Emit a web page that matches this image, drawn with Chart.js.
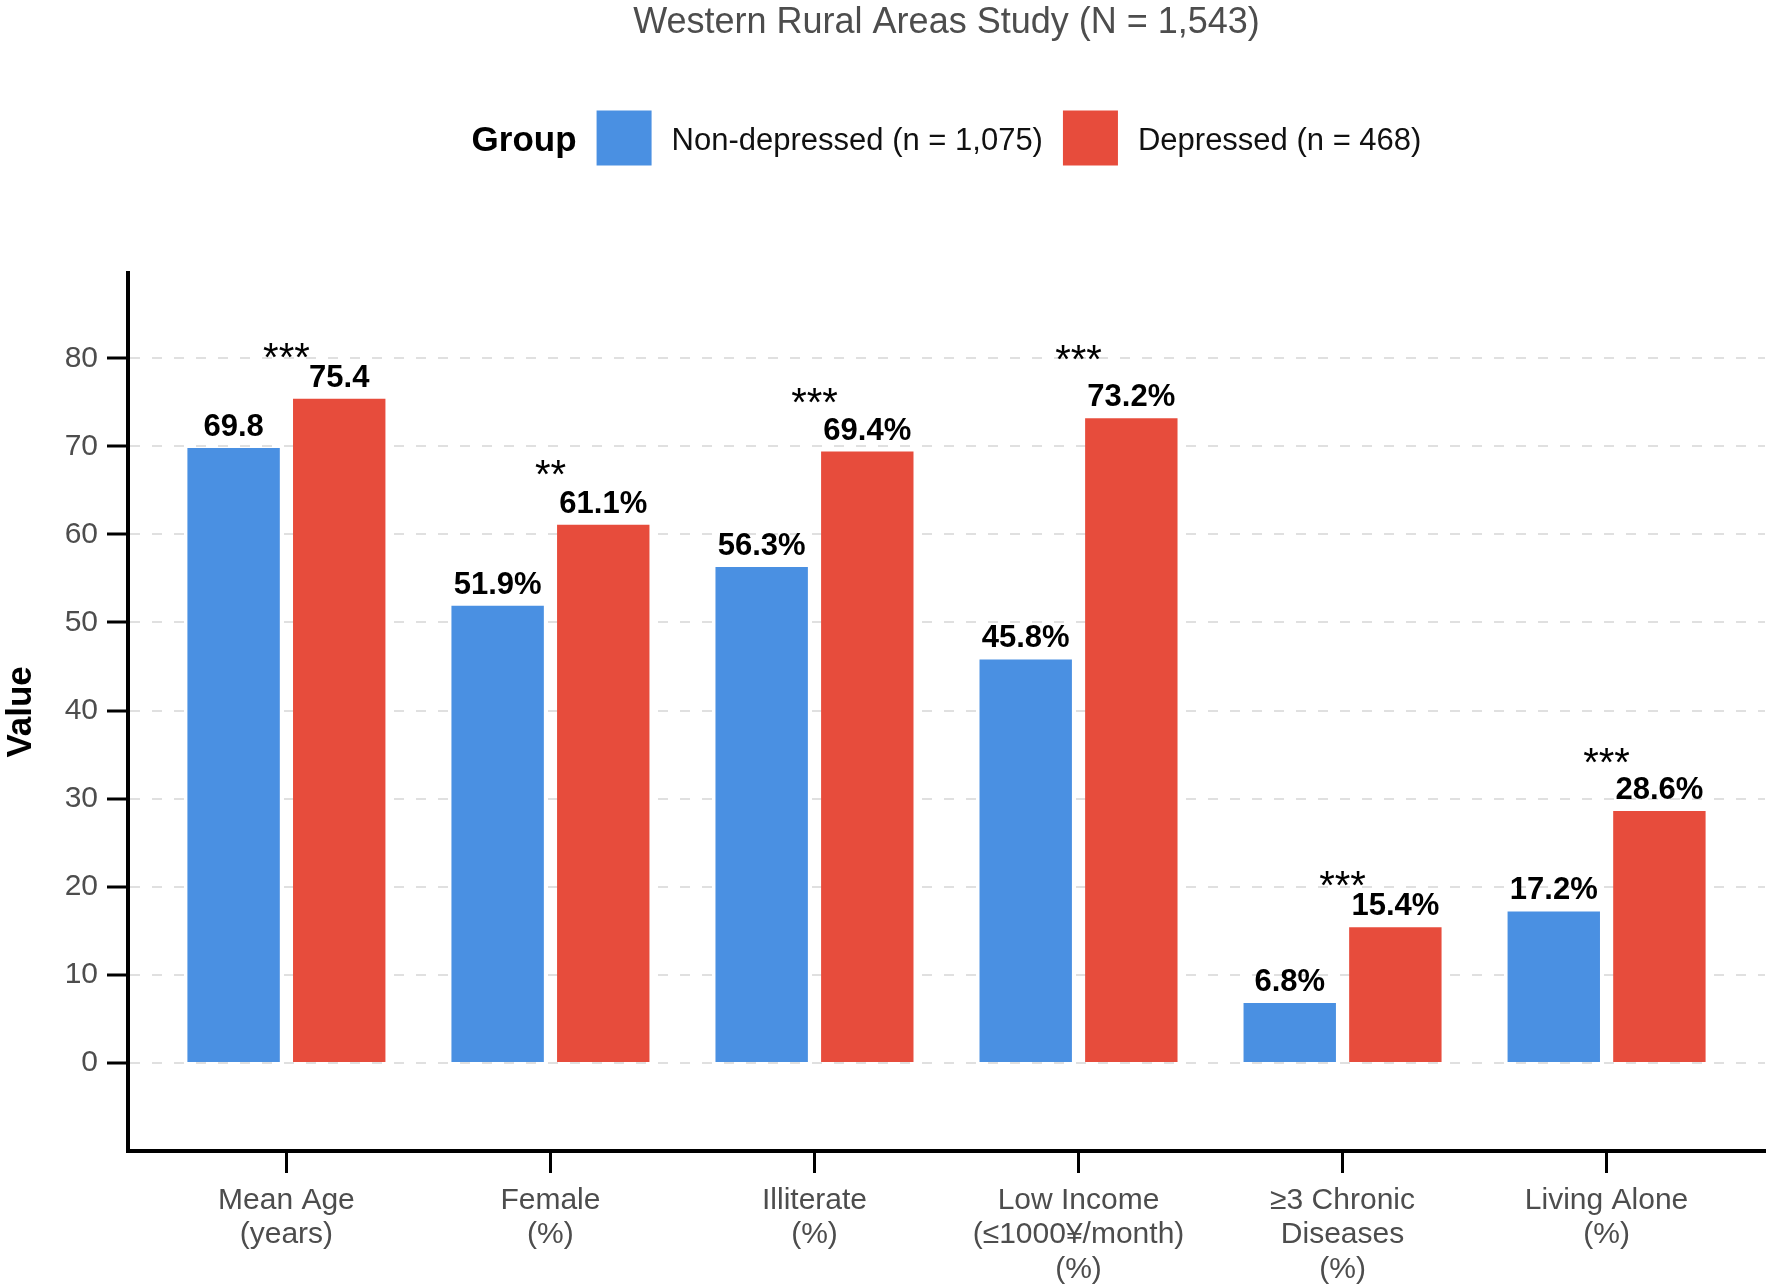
<!DOCTYPE html>
<html>
<head>
<meta charset="utf-8">
<script src="https://cdn.jsdelivr.net/npm/chart.js@4.4.1/dist/chart.umd.min.js"></script>
<style>
  html, body { margin: 0; padding: 0; background: #fff; }
  #wrap { width: 1772px; height: 1288px; }
</style>
</head>
<body>
<div id="wrap"><canvas id="chart" width="1772" height="1288" style="width:1772px;height:1288px"></canvas></div>
<script>
const FONT = "'Liberation Sans', Arial, Helvetica, sans-serif";

/* ---- data ---- */
const categories = [
  ['Mean Age', '(years)'],
  ['Female', '(%)'],
  ['Illiterate', '(%)'],
  ['Low Income', '(≤1000¥/month)', '(%)'],
  ['≥3 Chronic', 'Diseases', '(%)'],
  ['Living Alone', '(%)']
];
const nonDepressed = [69.8, 51.9, 56.3, 45.8, 6.8, 17.2];
const depressed    = [75.4, 61.1, 69.4, 73.2, 15.4, 28.6];
const valueSuffix  = ['', '%', '%', '%', '%', '%'];
const significance = ['***', '**', '***', '***', '***', '***'];
const sigHeight    = [78.6, 65.3, 73.4, 78.3, 18.6, 32.6];   // y value where the stars sit
const yTicks       = [0, 10, 20, 30, 40, 50, 60, 70, 80];
const groupNames   = ['Non-depressed (n = 1,075)', 'Depressed (n = 468)'];
const COLORS       = ['#4A90E2', '#E74C3C'];

const toPoints = arr => arr.map((v, i) => ({ x: i, y: v }));

/* ---- legend drawn to the right of a bold "Group" title ---- */
const groupLegend = {
  id: 'groupLegend',
  afterDraw(chart) {
    const { ctx, chartArea } = chart;
    const cy = 138, box = 55, gap = 20, textY = cy + 3;
    const titleFont = `bold 35px ${FONT}`;
    const itemFont  = `31px ${FONT}`;
    ctx.save();
    ctx.textBaseline = 'middle';
    ctx.textAlign = 'left';
    ctx.font = titleFont;
    const titleW = ctx.measureText('Group').width;
    ctx.font = itemFont;
    const items = chart.data.datasets.map(ds => ({
      text: ds.label, color: ds.backgroundColor, w: ctx.measureText(ds.label).width
    }));
    let total = titleW;
    items.forEach(it => { total += gap + box + gap + it.w; });
    let x = (chartArea.left + chartArea.right) / 2 - total / 2;

    ctx.font = titleFont;
    ctx.fillStyle = '#000';
    ctx.fillText('Group', x, textY);
    x += titleW;
    ctx.font = itemFont;
    items.forEach(it => {
      x += gap;
      ctx.fillStyle = it.color;
      ctx.fillRect(x, cy - box / 2, box, box);
      x += box + gap;
      ctx.fillStyle = '#111';
      ctx.fillText(it.text, x, textY);
      x += it.w;
    });
    ctx.restore();
  }
};

/* ---- value labels on bars + significance stars ---- */
const barLabels = {
  id: 'barLabels',
  afterDatasetsDraw(chart) {
    const { ctx } = chart;
    const xs = chart.scales.x, ys = chart.scales.y;
    ctx.save();
    ctx.textAlign = 'center';
    ctx.textBaseline = 'alphabetic';
    ctx.fillStyle = '#000';
    ctx.font = `bold 31px ${FONT}`;
    chart.data.datasets.forEach((ds, di) => {
      chart.getDatasetMeta(di).data.forEach((bar, i) => {
        ctx.fillText(ds.data[i].y.toFixed(1) + valueSuffix[i], bar.x, bar.y - 12);
      });
    });
    ctx.font = `40px ${FONT}`;
    significance.forEach((s, i) => {
      ctx.fillText(s, xs.getPixelForValue(i), ys.getPixelForValue(sigHeight[i]));
    });
    ctx.restore();
  }
};

new Chart(document.getElementById('chart'), {
  type: 'bar',
  data: {
    datasets: [
      { label: groupNames[0], data: toPoints(nonDepressed), backgroundColor: COLORS[0] },
      { label: groupNames[1], data: toPoints(depressed),    backgroundColor: COLORS[1] }
    ]
  },
  options: {
    responsive: false,
    animation: false,
    categoryPercentage: 0.8,
    barPercentage: 0.875,
    layout: { padding: { left: 0, right: 7, top: 0, bottom: 0 } },
    plugins: {
      legend: { display: false },
      tooltip: { enabled: false },
      title: {
        display: true,
        fullSize: false,
        text: 'Western Rural Areas Study (N = 1,543)',
        color: '#4d4d4d',
        font: { family: FONT, size: 36, weight: 'normal', lineHeight: 1.05 },
        padding: { top: 4, bottom: 231 }
      }
    },
    scales: {
      x: {
        type: 'linear',
        min: -0.6, max: 5.6,
        offset: false,
        afterBuildTicks: s => { s.ticks = categories.map((_, i) => ({ value: i })); },
        afterFit: s => { s.height = 137; },
        grid: {
          display: true, drawOnChartArea: false, drawTicks: true, offset: false,
          tickLength: 22, tickWidth: 3, tickColor: '#000'
        },
        border: { display: true, color: '#000', width: 4 },
        ticks: {
          autoSkip: false, maxRotation: 0, minRotation: 0, padding: 10,
          color: '#4d4d4d',
          font: { family: FONT, size: 30, lineHeight: 1.15 },
          callback: v => categories[v]
        }
      },
      y: {
        min: -10, max: 89.7,
        afterBuildTicks: s => { s.ticks = yTicks.map(v => ({ value: v })); },
        afterFit: s => { s.width = 128; },
        grid: {
          color: '#e0e0e0', lineWidth: 2,
          tickLength: 21, tickWidth: 3, tickColor: '#000'
        },
        border: { display: true, color: '#000', width: 4, dash: [10, 12] },
        ticks: { padding: 9, color: '#4d4d4d', font: { family: FONT, size: 30 } },
        title: {
          display: true, text: 'Value', color: '#000', padding: 0,
          font: { family: FONT, size: 35, weight: 'bold', lineHeight: 1.2 }
        }
      }
    }
  },
  plugins: [groupLegend, barLabels]
});
</script>
</body>
</html>
